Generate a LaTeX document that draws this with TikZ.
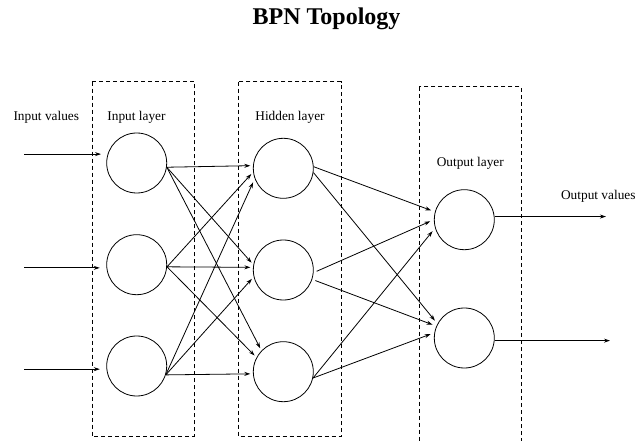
\documentclass[tikz,border=0pt]{standalone}
\usepackage{fontspec}
\setmainfont{Liberation Serif}
\usetikzlibrary{arrows.meta}

\tikzset{every picture/.style={line width=0.6pt}}
\tikzset{
  neuron/.style={draw, circle, minimum size=45pt, inner sep=0pt},
  layerbox/.style={dash pattern=on 3pt off 2.25pt},
  syn/.style={-{Stealth[length=4.5pt,width=3pt]}, shorten >=2pt},
  lbl/.style={inner sep=0pt, font=\fontsize{10}{12}\selectfont},
}

\begin{document}
\begin{tikzpicture}[x=0.75pt,y=0.75pt,yscale=-1,xscale=1]
        \useasboundingbox (0,0) rectangle (635,441);
        \node[font=\bfseries\fontsize{18}{21}\selectfont] (title) at (326.5,18.5) {BPN Topology};

        % layer frames
        \draw[layerbox] (92.3,81.7) rectangle (194,436.7);
        \draw[layerbox] (238.7,81.7) rectangle (341,436.7);
        \draw[layerbox] (419.3,86.7) rectangle (521,448);

        \node[lbl] (invals) at (46.3,117.7) {Input values};
        \node[lbl] (inlbl) at (136.5,117.7) {Input layer};
        \node[lbl] (hidlbl) at (290,117.7) {Hidden layer};
        \node[lbl] (outlbl) at (470.3,163.3) {Output layer};
        \node[lbl, anchor=west] (outvals) at (560.7,196.7) {Output values};

        % neurons
        \node[neuron] (i1) at (136.7,163) {};
        \node[neuron] (i2) at (136.7,264.7) {};
        \node[neuron] (i3) at (136.7,366) {};
        \node[neuron] (h1) at (283.3,168.3) {};
        \node[neuron] (h2) at (283.3,270) {};
        \node[neuron] (h3) at (283.3,371.7) {};
        \node[neuron] (o1) at (464.3,219.7) {};
        \node[neuron] (o2) at (464.3,338) {};

        % inputs and outputs
        \coordinate (src) at (24,0);
        \coordinate (snk1) at (606,0);
        \coordinate (snk2) at (610,0);
        \draw[syn, shorten >=5pt] (src |- i1.163) -- (i1.163);
        \draw[syn, shorten >=5pt] (src |- i2.186) -- (i2.186);
        \draw[syn, shorten >=5pt] (src |- i3.186) -- (i3.186);
        \draw[syn, shorten >=0pt] (o1.6) -- (o1.6 -| snk1);
        \draw[syn, shorten >=0pt] (o2.-5) -- (o2.-5 -| snk2);

        % input layer to hidden layer
        \draw[syn] (i1.-8) -- (h1.175);
        \draw[syn] (i1.-8) -- (h2.170);
        \draw[syn] (i1.-8) -- (h3.136);
        \draw[syn] (i2.-4) -- (h1.187);
        \draw[syn] (i2.-4) -- (h2.175);
        \draw[syn] (i2.-4) -- (h3.152);
        \draw[syn, shorten >=3pt] (i3.-17) -- (h1.200);
        \draw[syn] (i3.-17) -- (h2.193);
        \draw[syn] (i3.-17) -- (h3.184);

        % hidden layer to output layer
        \draw[syn, shorten >=3pt] (h1.3) -- (o1.165);
        \draw[syn, shorten >=3pt] (h1.-8) -- (o2.152);
        \draw[syn, shorten >=3pt, shorten <=2.5pt] (h2.-5) -- (o1.180);
        \draw[syn, shorten >=3pt, shorten <=2.5pt] (h2.-18) -- (o2.157);
        \draw[syn, shorten >=3pt] (h3.-12) -- (o1.196);
        \draw[syn, shorten >=3pt] (h3.-12) -- (o2.170);
\end{tikzpicture}
\end{document}
